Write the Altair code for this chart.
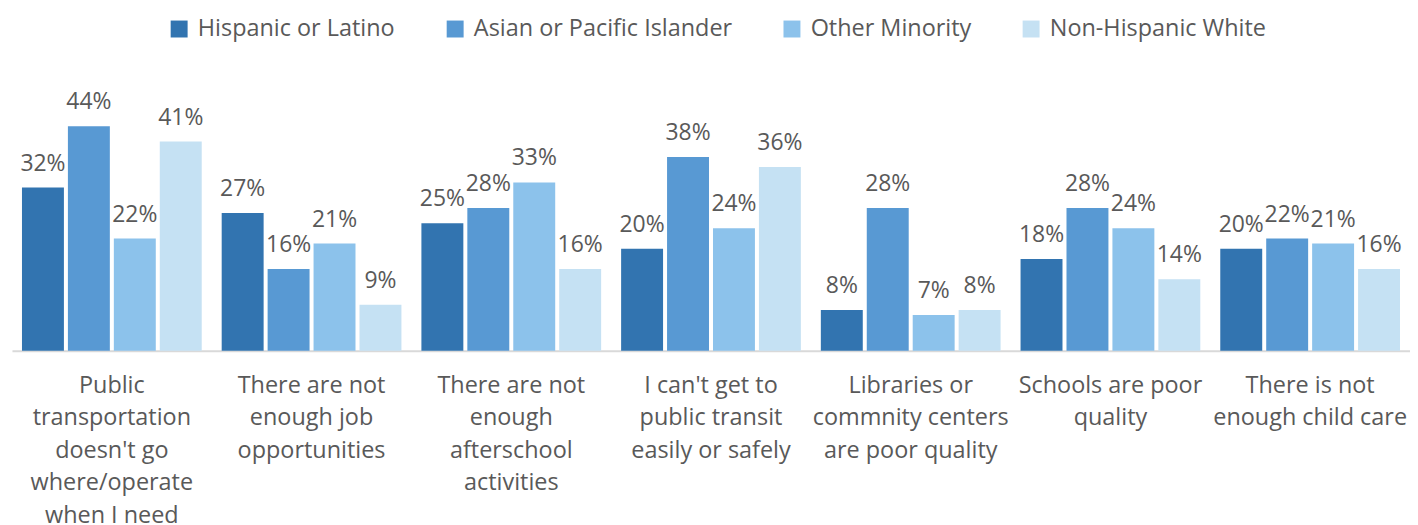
import altair as alt
import pandas as pd

categories = [
    "Public|transportation|doesn't go|where/operate|when I need",
    "There are not|enough job|opportunities",
    "There are not|enough|afterschool|activities",
    "I can't get to|public transit|easily or safely",
    "Libraries or|commnity centers|are poor quality",
    "Schools are poor|quality",
    "There is not|enough child care",
]
groups = ["Hispanic or Latino", "Asian or Pacific Islander", "Other Minority", "Non-Hispanic White"]
hispanic = [32, 27, 25, 20, 8, 18, 20]
asian = [44, 16, 28, 38, 28, 28, 22]
other = [22, 21, 33, 24, 7, 24, 21]
white = [41, 9, 16, 36, 8, 14, 16]
colors = ["#3274B0", "#5899D3", "#8CC2EB", "#C5E1F3"]

rows = []
for g, vals in zip(groups, [hispanic, asian, other, white]):
    for c, v in zip(categories, vals):
        rows.append({"category": c, "group": g, "value": v, "label": f"{v}%"})
df = pd.DataFrame(rows)

FONT = "Open Sans"
TXT = "#595959"

x = alt.X("category:N", sort=categories, title=None,
          scale=alt.Scale(paddingInner=0.1, paddingOuter=0.05),
          axis=alt.Axis(labelExpr="split(datum.label, '|')", labelAngle=0,
                        labelFontSize=23.5, labelFont=FONT, labelColor=TXT,
                        labelLineHeight=32.5, labelPadding=23, labelBaseline="top",
                        ticks=False, domainColor="#D9D9D9", domainWidth=2,
                        labelLimit=300))
xo = alt.XOffset("group:N", sort=groups, scale=alt.Scale(paddingInner=0.087))
y = alt.Y("value:Q", scale=alt.Scale(domain=[0, 50]), axis=None)

bars = alt.Chart(df).mark_bar().encode(
    x=x, xOffset=xo, y=y,
    color=alt.Color("group:N", sort=groups,
                    scale=alt.Scale(domain=groups, range=colors),
                    legend=alt.Legend(title=None, orient="none", direction="horizontal",
                                      columns=4, legendX=156, legendY=-79,
                                      symbolType="square", symbolSize=289,
                                      symbolStrokeWidth=0, labelFontSize=23.5,
                                      labelFont=FONT, labelColor=TXT, labelOffset=7,
                                      columnPadding=48, labelLimit=400)),
)
text = alt.Chart(df).mark_text(baseline="alphabetic", dy=-17, fontSize=23, font=FONT,
                               color=TXT).encode(
    x=x, xOffset=xo, y=y, text="label:N")

chart = (bars + text).properties(
    width=1403, height=256,
    autosize=alt.AutoSizeParams(type="none"),
    padding={"left": 4, "top": 87, "right": 0, "bottom": 200},
).configure_view(stroke=None)

chart.save("out.html", embed_options={"renderer": "svg", "actions": False})
